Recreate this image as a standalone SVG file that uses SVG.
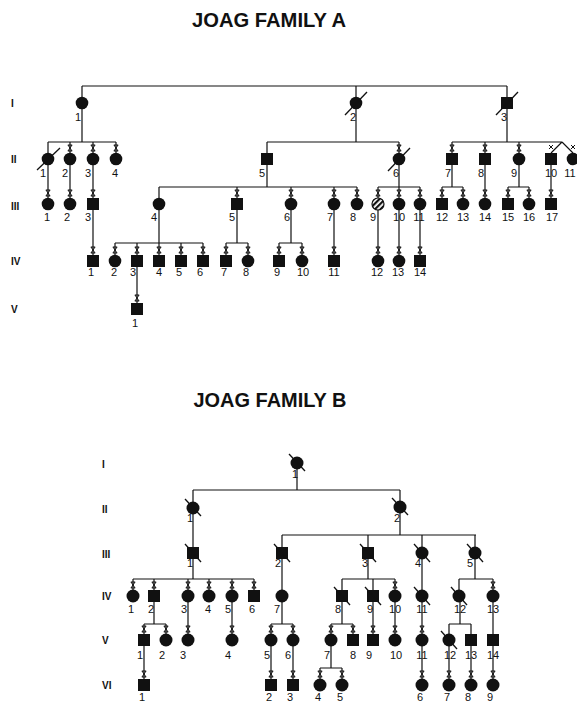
<svg xmlns="http://www.w3.org/2000/svg" xmlns:xlink="http://www.w3.org/1999/xlink" width="577" height="702" viewBox="0 0 577 702">
<style>
.ln{stroke:#111;stroke-width:1.2;fill:none}
.tk{stroke:#111;stroke-width:1;fill:none}
.sl{stroke:#111;stroke-width:1.3;fill:none}
.n{fill:#111}
.lb{font-family:"Liberation Sans",Arial,sans-serif;font-size:11px;fill:#111;text-anchor:middle}
.gen{font-family:"Liberation Sans",Arial,sans-serif;font-size:10px;font-weight:bold;fill:#111}
.title{font-family:"Liberation Sans",Arial,sans-serif;font-size:21px;font-weight:bold;fill:#111;text-anchor:middle}
</style>
<defs>
<path id="tk" class="tk" d="M-2.2,-3 H2.2 M-2.2,3 H2.2 M-2,-3 L2,3 M2,-3 L-2,3"/>
<pattern id="hatch" width="4" height="4" patternUnits="userSpaceOnUse" patternTransform="rotate(-45)">
<rect width="4" height="4" fill="#fff"/>
<rect width="4" height="2.2" fill="#111"/>
</pattern>
</defs>
<rect width="577" height="702" fill="#fff"/>

<text class="title" x="269" y="27" textLength="154" lengthAdjust="spacingAndGlyphs">JOAG FAMILY A</text>
<text class="title" x="270" y="407" textLength="153" lengthAdjust="spacingAndGlyphs">JOAG FAMILY B</text>

<g id="gen-labels">
<text class="gen" x="11" y="107">I</text>
<text class="gen" x="11" y="163">II</text>
<text class="gen" x="11" y="210">III</text>
<text class="gen" x="11" y="265">IV</text>
<text class="gen" x="11" y="313">V</text>
<text class="gen" x="102" y="468">I</text>
<text class="gen" x="102" y="513">II</text>
<text class="gen" x="102" y="558">III</text>
<text class="gen" x="102" y="600">IV</text>
<text class="gen" x="102" y="644">V</text>
<text class="gen" x="102" y="689">VI</text>
</g>

<g id="connectors">
<!-- Family A -->
<path class="ln" d="M82,86 H507 M82,86 V97 M356,86 V97 M507,86 V97"/>
<path class="ln" d="M82,109 V142 M48,142 H116 M48,142 V153 M70,142 V153 M93,142 V153 M116,142 V153"/>
<path class="ln" d="M356,109 V142 M267,142 H399 M267,142 V153 M399,142 V153"/>
<path class="ln" d="M507,109 V142 M452,142 H562 M452,142 V153 M485,142 V153 M519,142 V153 M562,142 L551,153 M562,142 L573,153"/>
<path class="ln" d="M48,165 V198 M70,165 V198 M93,165 V198"/>
<path class="ln" d="M267,165 V187 M159,187 H357 M159,187 V198 M237,187 V198 M291,187 V198 M334,187 V198 M357,187 V198"/>
<path class="ln" d="M399,165 V187 M378,187 H420 M378,187 V198 M399,187 V198 M420,187 V198"/>
<path class="ln" d="M452,165 V187 M442,187 H463 M442,187 V198 M463,187 V198"/>
<path class="ln" d="M485,165 V198"/>
<path class="ln" d="M519,165 V187 M508,187 H529 M508,187 V198 M529,187 V198"/>
<path class="ln" d="M551,165 V198"/>
<path class="ln" d="M93,210 V255"/>
<path class="ln" d="M159,210 V243 M115,243 H203 M115,243 V255 M137,243 V255 M159,243 V255 M181,243 V255 M203,243 V255"/>
<path class="ln" d="M237,210 V243 M226,243 H248 M226,243 V255 M248,243 V255"/>
<path class="ln" d="M291,210 V243 M279,243 H302 M279,243 V255 M302,243 V255"/>
<path class="ln" d="M334,210 V255 M378,210 V255 M399,210 V255 M420,210 V255"/>
<path class="ln" d="M137,267 V303"/>
<use xlink:href="#tk" x="70" y="148"/><use xlink:href="#tk" x="93" y="148"/><use xlink:href="#tk" x="116" y="148"/>
<use xlink:href="#tk" x="399" y="148"/>
<use xlink:href="#tk" x="452" y="148"/><use xlink:href="#tk" x="485" y="148"/><use xlink:href="#tk" x="519" y="148"/>
<path class="tk" d="M549,145 L553,149 M553,145 L549,149 M571,145 L575,149 M575,145 L571,149"/>
<use xlink:href="#tk" x="48" y="193"/><use xlink:href="#tk" x="70" y="193"/><use xlink:href="#tk" x="93" y="193"/>
<use xlink:href="#tk" x="237" y="193"/><use xlink:href="#tk" x="291" y="193"/><use xlink:href="#tk" x="334" y="193"/><use xlink:href="#tk" x="357" y="193"/>
<use xlink:href="#tk" x="378" y="193"/><use xlink:href="#tk" x="399" y="193"/><use xlink:href="#tk" x="420" y="193"/>
<use xlink:href="#tk" x="442" y="193"/><use xlink:href="#tk" x="463" y="193"/><use xlink:href="#tk" x="485" y="193"/>
<use xlink:href="#tk" x="508" y="193"/><use xlink:href="#tk" x="529" y="193"/><use xlink:href="#tk" x="551" y="193"/>
<use xlink:href="#tk" x="93" y="250"/><use xlink:href="#tk" x="115" y="250"/><use xlink:href="#tk" x="137" y="250"/><use xlink:href="#tk" x="159" y="250"/>
<use xlink:href="#tk" x="181" y="250"/><use xlink:href="#tk" x="203" y="250"/><use xlink:href="#tk" x="226" y="250"/><use xlink:href="#tk" x="248" y="250"/>
<use xlink:href="#tk" x="279" y="250"/><use xlink:href="#tk" x="302" y="250"/><use xlink:href="#tk" x="334" y="250"/><use xlink:href="#tk" x="378" y="250"/>
<use xlink:href="#tk" x="399" y="250"/><use xlink:href="#tk" x="420" y="250"/>
<use xlink:href="#tk" x="137" y="298"/>

<!-- Family B -->
<path class="ln" d="M297,469 V490 M193,490 H400 M193,490 V502 M400,490 V501"/>
<path class="ln" d="M193,514 V547"/>
<path class="ln" d="M400,513 V535 M282,535 H476 M282,535 V547 M368,535 V547 M422,535 V547 M475,535 V547"/>
<path class="ln" d="M193,559 V579 M133,579 H254 M133,579 V590 M154,579 V590 M188,579 V590 M209,579 V590 M232,579 V590 M254,579 V590"/>
<path class="ln" d="M282,559 V590"/>
<path class="ln" d="M368,559 V579 M342,579 H395 M342,579 V590 M373,579 V590 M395,579 V590"/>
<path class="ln" d="M422,559 V590"/>
<path class="ln" d="M475,559 V579 M459,579 H493 M459,579 V590 M493,579 V590"/>
<path class="ln" d="M154,602 V624 M144,624 H166 M144,624 V634 M166,624 V634"/>
<path class="ln" d="M188,602 V634 M232,602 V634"/>
<path class="ln" d="M282,602 V624 M271,624 H293 M271,624 V634 M293,624 V634"/>
<path class="ln" d="M342,602 V624 M331,624 H353 M331,624 V634 M353,624 V634"/>
<path class="ln" d="M373,602 V634 M395,602 V634 M422,602 V634"/>
<path class="ln" d="M460,602 V624 M449,624 H471 M449,624 V634 M471,624 V634"/>
<path class="ln" d="M493,602 V634"/>
<path class="ln" d="M144,646 V679 M271,646 V679 M293,646 V679"/>
<path class="ln" d="M331,646 V668 M320,668 H342 M320,668 V679 M342,668 V679"/>
<path class="ln" d="M422,646 V679 M449,646 V679 M471,646 V679 M493,646 V679"/>
<use xlink:href="#tk" x="133" y="585"/><use xlink:href="#tk" x="154" y="585"/><use xlink:href="#tk" x="188" y="585"/>
<use xlink:href="#tk" x="209" y="585"/><use xlink:href="#tk" x="232" y="585"/><use xlink:href="#tk" x="254" y="585"/>
<use xlink:href="#tk" x="395" y="585"/><use xlink:href="#tk" x="493" y="585"/>
<use xlink:href="#tk" x="144" y="629"/><use xlink:href="#tk" x="166" y="629"/><use xlink:href="#tk" x="188" y="629"/><use xlink:href="#tk" x="232" y="629"/>
<use xlink:href="#tk" x="271" y="629"/><use xlink:href="#tk" x="293" y="629"/><use xlink:href="#tk" x="331" y="629"/><use xlink:href="#tk" x="353" y="629"/>
<use xlink:href="#tk" x="373" y="629"/><use xlink:href="#tk" x="395" y="629"/><use xlink:href="#tk" x="422" y="629"/>
<use xlink:href="#tk" x="144" y="674"/><use xlink:href="#tk" x="271" y="674"/><use xlink:href="#tk" x="293" y="674"/>
<use xlink:href="#tk" x="320" y="674"/><use xlink:href="#tk" x="342" y="674"/><use xlink:href="#tk" x="422" y="674"/>
<use xlink:href="#tk" x="449" y="674"/><use xlink:href="#tk" x="471" y="674"/><use xlink:href="#tk" x="493" y="674"/>
</g>

<!-- Family A nodes -->
<g id="A-I-1"><circle class="n" cx="82" cy="103" r="6.3"/><text class="lb" x="78" y="121">1</text></g>
<g id="A-I-2"><circle class="n" cx="356" cy="103" r="6.3"/><path class="sl" d="M345,115 L367,92"/><text class="lb" x="353" y="121">2</text></g>
<g id="A-I-3"><rect class="n" x="501" y="97" width="12" height="12"/><path class="sl" d="M496,115 L518,92"/><text class="lb" x="504" y="121">3</text></g>

<g id="A-II-1"><circle class="n" cx="48" cy="159" r="6.3"/><path class="sl" d="M37,170 L60,148"/><text class="lb" x="43" y="177">1</text></g>
<g id="A-II-2"><circle class="n" cx="70" cy="159" r="6.3"/><text class="lb" x="65" y="177">2</text></g>
<g id="A-II-3"><circle class="n" cx="93" cy="159" r="6.3"/><text class="lb" x="88" y="177">3</text></g>
<g id="A-II-4"><circle class="n" cx="116" cy="159" r="6.3"/><text class="lb" x="115" y="177">4</text></g>
<g id="A-II-5"><rect class="n" x="261" y="153" width="12" height="12"/><text class="lb" x="262" y="177">5</text></g>
<g id="A-II-6"><circle class="n" cx="399" cy="159" r="6.3"/><path class="sl" d="M388,171 L410,148"/><text class="lb" x="396" y="177">6</text></g>
<g id="A-II-7"><rect class="n" x="446" y="153" width="12" height="12"/><text class="lb" x="448" y="177">7</text></g>
<g id="A-II-8"><rect class="n" x="479" y="153" width="12" height="12"/><text class="lb" x="481" y="177">8</text></g>
<g id="A-II-9"><circle class="n" cx="519" cy="159" r="6.3"/><text class="lb" x="514" y="177">9</text></g>
<g id="A-II-10"><rect class="n" x="545" y="153" width="12" height="12"/><text class="lb" x="551" y="177">10</text></g>
<g id="A-II-11"><circle class="n" cx="573" cy="159" r="6.3"/><text class="lb" x="570" y="177">11</text></g>

<g id="A-III-1"><circle class="n" cx="48" cy="204" r="6.3"/><text class="lb" x="47" y="221">1</text></g>
<g id="A-III-2"><circle class="n" cx="70" cy="204" r="6.3"/><text class="lb" x="67" y="221">2</text></g>
<g id="A-III-3"><rect class="n" x="87" y="198" width="12" height="12"/><text class="lb" x="88" y="221">3</text></g>
<g id="A-III-4"><circle class="n" cx="159" cy="204" r="6.3"/><text class="lb" x="154" y="221">4</text></g>
<g id="A-III-5"><rect class="n" x="231" y="198" width="12" height="12"/><text class="lb" x="232" y="221">5</text></g>
<g id="A-III-6"><circle class="n" cx="291" cy="204" r="6.3"/><text class="lb" x="287" y="221">6</text></g>
<g id="A-III-7"><circle class="n" cx="334" cy="204" r="6.3"/><text class="lb" x="330" y="221">7</text></g>
<g id="A-III-8"><circle class="n" cx="357" cy="204" r="6.3"/><text class="lb" x="353" y="221">8</text></g>
<g id="A-III-9"><circle cx="378" cy="204" r="6" fill="url(#hatch)" stroke="#111" stroke-width="1.2"/><text class="lb" x="373" y="221">9</text></g>
<g id="A-III-10"><circle class="n" cx="399" cy="204" r="6.3"/><text class="lb" x="399" y="221">10</text></g>
<g id="A-III-11"><circle class="n" cx="420" cy="204" r="6.3"/><text class="lb" x="419" y="221">11</text></g>
<g id="A-III-12"><rect class="n" x="436" y="198" width="12" height="12"/><text class="lb" x="442" y="221">12</text></g>
<g id="A-III-13"><circle class="n" cx="463" cy="204" r="6.3"/><text class="lb" x="463" y="221">13</text></g>
<g id="A-III-14"><circle class="n" cx="485" cy="204" r="6.3"/><text class="lb" x="485" y="221">14</text></g>
<g id="A-III-15"><rect class="n" x="502" y="198" width="12" height="12"/><text class="lb" x="508" y="221">15</text></g>
<g id="A-III-16"><circle class="n" cx="529" cy="204" r="6.3"/><text class="lb" x="529" y="221">16</text></g>
<g id="A-III-17"><rect class="n" x="545" y="198" width="12" height="12"/><text class="lb" x="552" y="221">17</text></g>

<g id="A-IV-1"><rect class="n" x="87" y="255" width="12" height="12"/><text class="lb" x="91" y="276">1</text></g>
<g id="A-IV-2"><circle class="n" cx="115" cy="261" r="6.3"/><text class="lb" x="114" y="276">2</text></g>
<g id="A-IV-3"><rect class="n" x="131" y="255" width="12" height="12"/><text class="lb" x="133" y="276">3</text></g>
<g id="A-IV-4"><rect class="n" x="153" y="255" width="12" height="12"/><text class="lb" x="159" y="276">4</text></g>
<g id="A-IV-5"><rect class="n" x="175" y="255" width="12" height="12"/><text class="lb" x="179" y="276">5</text></g>
<g id="A-IV-6"><rect class="n" x="197" y="255" width="12" height="12"/><text class="lb" x="200" y="276">6</text></g>
<g id="A-IV-7"><rect class="n" x="220" y="255" width="12" height="12"/><text class="lb" x="224" y="276">7</text></g>
<g id="A-IV-8"><circle class="n" cx="248" cy="261" r="6.3"/><text class="lb" x="246" y="276">8</text></g>
<g id="A-IV-9"><rect class="n" x="273" y="255" width="12" height="12"/><text class="lb" x="277" y="276">9</text></g>
<g id="A-IV-10"><circle class="n" cx="302" cy="261" r="6.3"/><text class="lb" x="303" y="276">10</text></g>
<g id="A-IV-11"><rect class="n" x="328" y="255" width="12" height="12"/><text class="lb" x="334" y="276">11</text></g>
<g id="A-IV-12"><circle class="n" cx="378" cy="261" r="6.3"/><text class="lb" x="377" y="276">12</text></g>
<g id="A-IV-13"><circle class="n" cx="399" cy="261" r="6.3"/><text class="lb" x="398" y="276">13</text></g>
<g id="A-IV-14"><rect class="n" x="414" y="255" width="12" height="12"/><text class="lb" x="420" y="276">14</text></g>

<g id="A-V-1"><rect class="n" x="131" y="303" width="12" height="12"/><text class="lb" x="135" y="327">1</text></g>

<!-- Family B nodes -->
<g id="B-I-1"><circle class="n" cx="297" cy="463" r="6.5"/><path class="sl" d="M289,454 L305,471"/><text class="lb" x="295" y="478">1</text></g>
<g id="B-II-1"><circle class="n" cx="193" cy="508" r="6.5"/><path class="sl" d="M185,499 L201,516"/><text class="lb" x="190" y="522">1</text></g>
<g id="B-II-2"><circle class="n" cx="400" cy="507" r="6.5"/><path class="sl" d="M392,498 L408,515"/><text class="lb" x="397" y="522">2</text></g>

<g id="B-III-1"><rect class="n" x="187" y="547" width="12" height="12"/><path class="sl" d="M185,544 L201,562"/><text class="lb" x="190" y="567">1</text></g>
<g id="B-III-2"><rect class="n" x="276" y="547" width="12" height="12"/><path class="sl" d="M274,544 L290,562"/><text class="lb" x="278" y="567">2</text></g>
<g id="B-III-3"><rect class="n" x="362" y="547" width="12" height="12"/><path class="sl" d="M360,544 L376,562"/><text class="lb" x="365" y="567">3</text></g>
<g id="B-III-4"><circle class="n" cx="422" cy="553" r="6.5"/><path class="sl" d="M414,544 L430,562"/><text class="lb" x="418" y="567">4</text></g>
<g id="B-III-5"><circle class="n" cx="475" cy="553" r="6.5"/><path class="sl" d="M467,544 L483,562"/><text class="lb" x="470" y="567">5</text></g>

<g id="B-IV-1"><circle class="n" cx="133" cy="596" r="6.5"/><text class="lb" x="131" y="613">1</text></g>
<g id="B-IV-2"><rect class="n" x="148" y="590" width="12" height="12"/><text class="lb" x="151" y="613">2</text></g>
<g id="B-IV-3"><circle class="n" cx="188" cy="596" r="6.5"/><text class="lb" x="184" y="613">3</text></g>
<g id="B-IV-4"><circle class="n" cx="209" cy="596" r="6.5"/><text class="lb" x="208" y="613">4</text></g>
<g id="B-IV-5"><circle class="n" cx="232" cy="596" r="6.5"/><text class="lb" x="228" y="613">5</text></g>
<g id="B-IV-6"><rect class="n" x="248" y="590" width="12" height="12"/><text class="lb" x="252" y="613">6</text></g>
<g id="B-IV-7"><circle class="n" cx="282" cy="596" r="6.5"/><text class="lb" x="277" y="613">7</text></g>
<g id="B-IV-8"><rect class="n" x="336" y="590" width="12" height="12"/><path class="sl" d="M334,587 L350,605"/><text class="lb" x="338" y="613">8</text></g>
<g id="B-IV-9"><rect class="n" x="367" y="590" width="12" height="12"/><path class="sl" d="M365,587 L381,605"/><text class="lb" x="370" y="613">9</text></g>
<g id="B-IV-10"><circle class="n" cx="395" cy="596" r="6.5"/><text class="lb" x="395" y="613">10</text></g>
<g id="B-IV-11"><circle class="n" cx="422" cy="596" r="6.5"/><path class="sl" d="M414,587 L430,605"/><text class="lb" x="422" y="613">11</text></g>
<g id="B-IV-12"><circle class="n" cx="459" cy="596" r="6.5"/><path class="sl" d="M451,587 L467,605"/><text class="lb" x="460" y="613">12</text></g>
<g id="B-IV-13"><circle class="n" cx="493" cy="596" r="6.5"/><text class="lb" x="493" y="613">13</text></g>

<g id="B-V-1"><rect class="n" x="138" y="634" width="12" height="12"/><text class="lb" x="140" y="659">1</text></g>
<g id="B-V-2"><circle class="n" cx="166" cy="640" r="6.5"/><text class="lb" x="162" y="659">2</text></g>
<g id="B-V-3"><circle class="n" cx="188" cy="640" r="6.5"/><text class="lb" x="183" y="659">3</text></g>
<g id="B-V-4"><circle class="n" cx="232" cy="640" r="6.5"/><text class="lb" x="228" y="659">4</text></g>
<g id="B-V-5"><circle class="n" cx="271" cy="640" r="6.5"/><text class="lb" x="267" y="659">5</text></g>
<g id="B-V-6"><circle class="n" cx="293" cy="640" r="6.5"/><text class="lb" x="288" y="659">6</text></g>
<g id="B-V-7"><circle class="n" cx="331" cy="640" r="6.5"/><text class="lb" x="327" y="659">7</text></g>
<g id="B-V-8"><rect class="n" x="347" y="634" width="12" height="12"/><text class="lb" x="353" y="659">8</text></g>
<g id="B-V-9"><rect class="n" x="367" y="634" width="12" height="12"/><text class="lb" x="369" y="659">9</text></g>
<g id="B-V-10"><circle class="n" cx="395" cy="640" r="6.5"/><text class="lb" x="396" y="659">10</text></g>
<g id="B-V-11"><circle class="n" cx="422" cy="640" r="6.5"/><text class="lb" x="422" y="659">11</text></g>
<g id="B-V-12"><circle class="n" cx="449" cy="640" r="6.5"/><path class="sl" d="M441,631 L457,649"/><text class="lb" x="450" y="659">12</text></g>
<g id="B-V-13"><rect class="n" x="465" y="634" width="12" height="12"/><text class="lb" x="471" y="659">13</text></g>
<g id="B-V-14"><rect class="n" x="487" y="634" width="12" height="12"/><text class="lb" x="493" y="659">14</text></g>

<g id="B-VI-1"><rect class="n" x="138" y="679" width="12" height="12"/><text class="lb" x="142" y="701">1</text></g>
<g id="B-VI-2"><rect class="n" x="265" y="679" width="12" height="12"/><text class="lb" x="269" y="701">2</text></g>
<g id="B-VI-3"><rect class="n" x="287" y="679" width="12" height="12"/><text class="lb" x="290" y="701">3</text></g>
<g id="B-VI-4"><circle class="n" cx="320" cy="685" r="6.5"/><text class="lb" x="318" y="701">4</text></g>
<g id="B-VI-5"><circle class="n" cx="342" cy="685" r="6.5"/><text class="lb" x="340" y="701">5</text></g>
<g id="B-VI-6"><circle class="n" cx="422" cy="685" r="6.5"/><text class="lb" x="420" y="701">6</text></g>
<g id="B-VI-7"><circle class="n" cx="449" cy="685" r="6.5"/><text class="lb" x="447" y="701">7</text></g>
<g id="B-VI-8"><circle class="n" cx="471" cy="685" r="6.5"/><text class="lb" x="468" y="701">8</text></g>
<g id="B-VI-9"><circle class="n" cx="493" cy="685" r="6.5"/><text class="lb" x="490" y="701">9</text></g>
</svg>
